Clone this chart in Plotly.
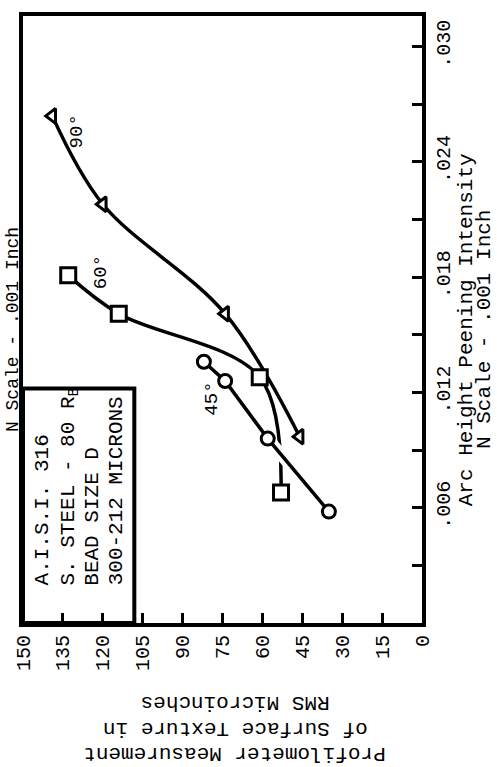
import plotly.graph_objects as go

# ---- data (RMS microinches vs arc height, inch) ----
rms_90 = [139, 120, 74, 46]
arc_90 = [0.0264, 0.0218, 0.0161, 0.0097]
rms_60 = [133, 114, 61, 53]
arc_60 = [0.0181, 0.0161, 0.0128, 0.0068]
rms_45 = [82, 74, 58, 35]
arc_45 = [0.0136, 0.0126, 0.0096, 0.0058]

rms_ticks = [0, 15, 30, 45, 60, 75, 90, 105, 120, 135, 150]
arc_label_ticks = [0.006, 0.012, 0.018, 0.024, 0.030]
arc_label_text = [".006", ".012", ".018", ".024", ".030"]
arc_minor_ticks = [0.003, 0.009, 0.015, 0.021, 0.027]

FONT = "Liberation Mono"
W, H = 497, 767
L, R, T, B = 17, 75, 12, 144
PW, PH = W - L - R, H - T - B


def px(xp):
    return (xp - L) / PW


def py(yp):
    return (H - B - yp) / PH


fig = go.Figure()

# curves
fig.add_trace(go.Scatter(x=rms_90, y=arc_90, mode="lines", line=dict(color="black", width=3.5, shape="spline"),
                         showlegend=False, hoverinfo="skip"))
fig.add_trace(go.Scatter(x=rms_60, y=arc_60, mode="lines", line=dict(color="black", width=3.5, shape="spline"),
                         showlegend=False, hoverinfo="skip"))
fig.add_trace(go.Scatter(x=rms_45, y=arc_45, mode="lines", line=dict(color="white", width=12),
                         showlegend=False, hoverinfo="skip"))
fig.add_trace(go.Scatter(x=rms_45, y=arc_45, mode="lines", line=dict(color="black", width=3.5),
                         showlegend=False, hoverinfo="skip"))

# markers
fig.add_trace(go.Scatter(x=rms_90, y=arc_90, mode="markers",
                         marker=dict(symbol="triangle-left", size=13, color="white",
                                     line=dict(color="black", width=3)), showlegend=False))
fig.add_trace(go.Scatter(x=rms_60, y=arc_60, mode="markers",
                         marker=dict(symbol="square", size=15, color="white",
                                     line=dict(color="black", width=3)), showlegend=False))
fig.add_trace(go.Scatter(x=rms_45, y=arc_45, mode="markers",
                         marker=dict(symbol="circle", size=13, color="white",
                                     line=dict(color="black", width=3)), showlegend=False))

ann = []


def text(xp, yp, s, angle=-90, size=21, xa="center", ya="middle"):
    ann.append(dict(x=px(xp), y=py(yp), xref="paper", yref="paper", text=s, showarrow=False,
                    textangle=angle, xanchor=xa, yanchor=ya,
                    font=dict(family=FONT, size=size, color="black")))


# curve labels
text(72, 128, "90°", size=19)
text(96, 270, "60°", size=19)
text(209, 397, "45°", size=19)

# material box text
text(37, 587, "A.I.S.I. 316", ya="bottom")
text(64, 587, "S. STEEL - 80 R<sub>B</sub>", ya="bottom")
text(88, 587, "BEAD SIZE D", ya="bottom")
text(112, 587, "300-212 MICRONS", ya="bottom")

# axis titles
text(468, 328, "Arc Height Peening Intensity")
text(486, 328, "N Scale - .001 Inch")
text(232, 703, "RMS Microinches", angle=180)
text(232, 729, "of Surface Texture in", angle=180)
text(232, 755, "Profilometer Measurement", angle=180)
# label bleeding in from the left edge
text(7, 328, "N Scale - .001 Inch", size=18)

fig.update_layout(
    width=W, height=H,
    margin=dict(l=L, r=R, t=T, b=B),
    paper_bgcolor="white", plot_bgcolor="white",
    annotations=ann,
    shapes=[dict(type="rect", xref="paper", yref="paper", x0=0, x1=px(130), y0=0, y1=py(387),
                 line=dict(color="black", width=4), fillcolor="rgba(0,0,0,0)")],
    xaxis=dict(range=[150, 0], tickvals=rms_ticks, ticks="inside", ticklen=10, tickwidth=3,
               tickcolor="black", showline=True, linewidth=4, linecolor="black", mirror=True,
               showgrid=False, zeroline=False, tickangle=-90,
               tickfont=dict(family=FONT, size=20, color="black")),
    yaxis=dict(range=[0, 0.0316], side="right", tickvals=arc_label_ticks, ticktext=arc_label_text,
               ticks="inside", ticklen=10, tickwidth=3, tickcolor="black",
               minor=dict(tickvals=arc_minor_ticks, ticks="inside", ticklen=10, tickwidth=3,
                          tickcolor="black", showgrid=False),
               showline=True, linewidth=4, linecolor="black", mirror=True,
               showgrid=False, zeroline=False, tickangle=-90,
               tickfont=dict(family=FONT, size=20, color="black")),
)

fig.write_html("out.html", config={"displayModeBar": False},
               post_script="document.body.style.margin='0';")
